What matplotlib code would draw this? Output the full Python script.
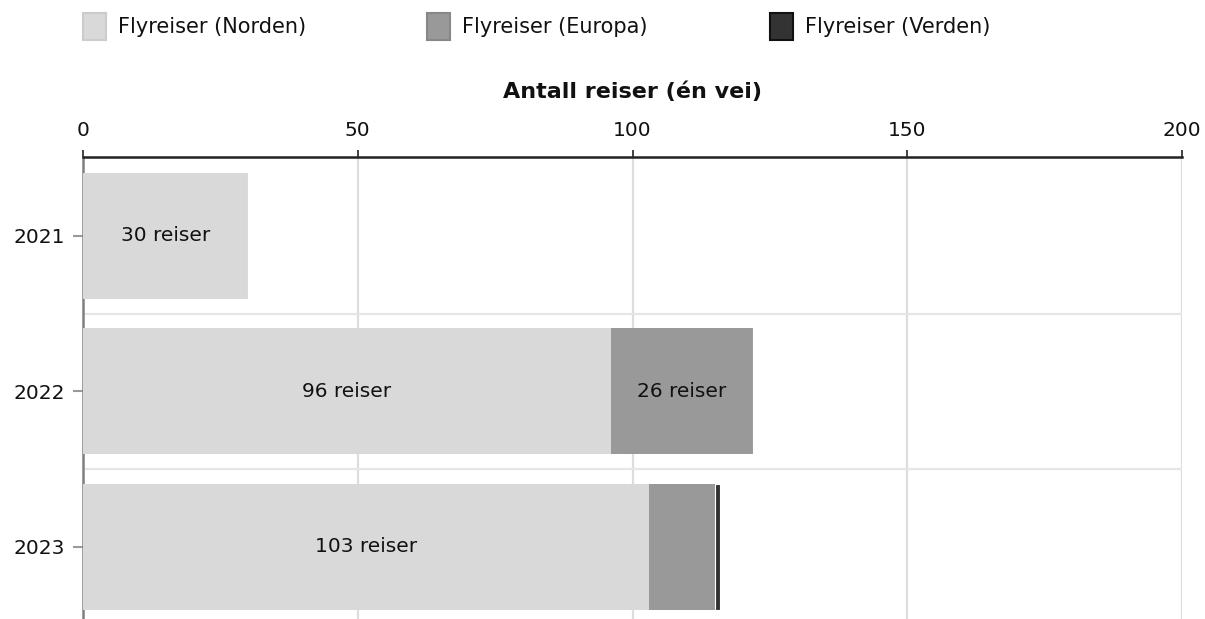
import matplotlib
matplotlib.use("Agg")
import matplotlib.pyplot as plt
from matplotlib.patches import Rectangle
import numpy as np

years = ["2021", "2022", "2023"]
series_names = ["Flyreiser (Norden)", "Flyreiser (Europa)", "Flyreiser (Verden)"]
norden = [30, 96, 103]
europa = [0, 26, 12]
verden = [0, 0, 1]
colors = ["#d9d9d9", "#999999", "#333333"]
legend_edges = ["#cccccc", "#888888", "#111111"]
xticks = [0, 50, 100, 150, 200]
xlabel = "Antall reiser (én vei)"

plt.rcParams['font.family'] = ['DejaVu Sans']

W, H = 1205, 619
fig = plt.figure(figsize=(W / 100, H / 100), dpi=100)
ax_top_px = 157
ax = fig.add_axes([83 / W, 0, (1182 - 83) / W, (H - ax_top_px) / H])

y = np.arange(len(years))
left = np.zeros(len(years))
for vals, col, name in zip([norden, europa, verden], colors, series_names):
    vals = np.array(vals, dtype=float)
    ec = "white" if name.endswith("(Verden)") else col
    ax.barh(y, vals, left=left, height=0.81, color=col, edgecolor=ec,
            linewidth=0.8 if ec == "white" else 0, zorder=3)
    for yi, v, l in zip(y, vals, left):
        if v >= 20:
            ax.text(l + v / 2, yi, f"{int(v)} reiser", ha="center", va="center",
                    fontsize=14.5, color="#111111", zorder=4)
    left = left + vals

ax.set_xlim(0, 200)
ax.set_ylim(2.463, -0.506)
ax.xaxis.tick_top()
ax.xaxis.set_label_position("top")
ax.set_xticks(xticks)
ax.set_xticklabels([str(t) for t in xticks])
ax.set_yticks(y)
ax.set_yticklabels(years)
ax.set_yticks([0.5, 1.5], minor=True)
ax.tick_params(axis="x", which="major", length=5, width=1.2, color="#222222",
               labelsize=14.5, pad=7, labelcolor="#111111")
ax.tick_params(axis="y", which="major", length=7, width=1.5, color="#999999",
               labelsize=14.5, pad=6, labelcolor="#111111")
ax.tick_params(axis="y", which="minor", length=0)
ax.grid(axis="x", which="major", color="#dddddd", linewidth=1.6, zorder=0)
ax.grid(axis="y", which="minor", color="#e6e6e6", linewidth=1.6, zorder=0)
ax.set_axisbelow(True)
ax.set_xlabel(xlabel, fontsize=16, fontweight="bold", labelpad=17, color="#111111")

for s in ["right", "bottom"]:
    ax.spines[s].set_visible(False)
ax.spines["top"].set_color("#222222")
ax.spines["top"].set_linewidth(1.8)
ax.spines["left"].set_color("#808080")
ax.spines["left"].set_linewidth(1.8)

# legend
leg_x = [83, 427, 770]
for lx, col, ec, name in zip(leg_x, colors, legend_edges, series_names):
    fig.patches.append(Rectangle((lx / W, 1 - 40 / H), 23 / W, 27 / H,
                                 transform=fig.transFigure, facecolor=col,
                                 edgecolor=ec, linewidth=1.5))
    fig.text((lx + 35) / W, 1 - 27 / H, name, ha="left", va="center",
             fontsize=15, color="#111111")

fig.savefig("out.png", dpi=100)
